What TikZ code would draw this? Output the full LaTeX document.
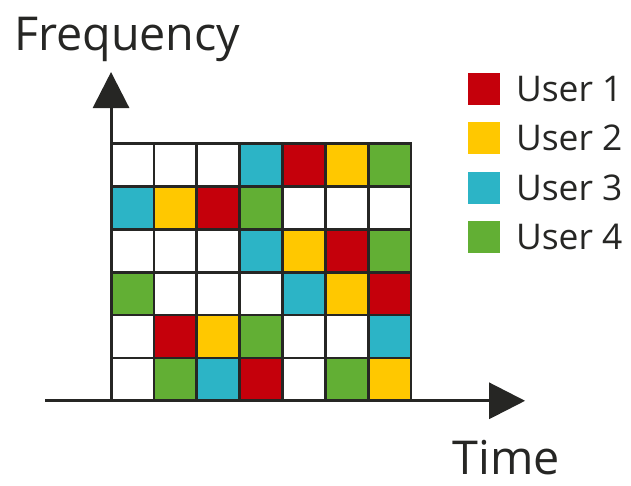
\documentclass[tikz,border=0pt]{standalone}
\usepackage{fontspec}
\setmainfont{Open Sans}
\usetikzlibrary{arrows.meta,positioning}

\definecolor{linie}{RGB}{38,38,36}
\definecolor{user0}{RGB}{255,255,255}
\definecolor{user1}{RGB}{197,0,11}
\definecolor{user2}{RGB}{255,200,0}
\definecolor{user3}{RGB}{44,180,198}
\definecolor{user4}{RGB}{98,175,52}

\tikzset{
	zelle/.style={line width=1.8pt, draw=linie},
	achse/.style={line width=2pt, draw=linie, -{Triangle[length=8.4mm, width=8.4mm]}},
	legkey/.style={minimum size=0.75cm, inner sep=0pt},
	legtext/.style={inner sep=0pt, text=linie, font=\fontsize{23.5}{28}\selectfont},
	titel/.style={inner sep=0pt, anchor=base west, text=linie, font=\fontsize{31}{37}\selectfont}
}

\begin{document}
\begin{tikzpicture}
	\useasboundingbox (-2.59,-1.97) rectangle (12.13,9.35);
	% Zellen (Zeile oben = 5)
	\foreach \y/\zeile in {5/{0,0,0,3,1,2,4}, 4/{3,2,1,4,0,0,0}, 3/{0,0,0,3,2,1,4},
		2/{4,0,0,0,3,2,1}, 1/{0,1,2,4,0,0,3}, 0/{0,4,3,1,0,4,2}}
		\foreach \f [count=\x from 0] in \zeile
			\filldraw[zelle, fill=user\f] (\x, \y) rectangle ++(1, 1);

	% Achsen
	\coordinate (ursprung) at (0, 0);
	\coordinate (fstart) at (-1.54, 0);
	\coordinate (tspitze) at (9.66, 0);
	\coordinate (fspitze) at (0, 7.67);
	\draw[achse] (fstart) -- (tspitze);
	\draw[achse] (ursprung) -- (fspitze);
	\node[titel] (frequency) at (-2.27, 8.18) {Frequency};
	\node[titel] (time) at (7.96, -1.72) {Time};

	% Legende
	\foreach \n/\yy in {1/7.27, 2/6.13, 3/4.97, 4/3.83}{
		\node[legkey, fill=user\n] (key\n) at (8.70, \yy) {};
		\node[legtext, right=0.36cm of key\n] (label\n) {User \n};
	}
\end{tikzpicture}
\end{document}
